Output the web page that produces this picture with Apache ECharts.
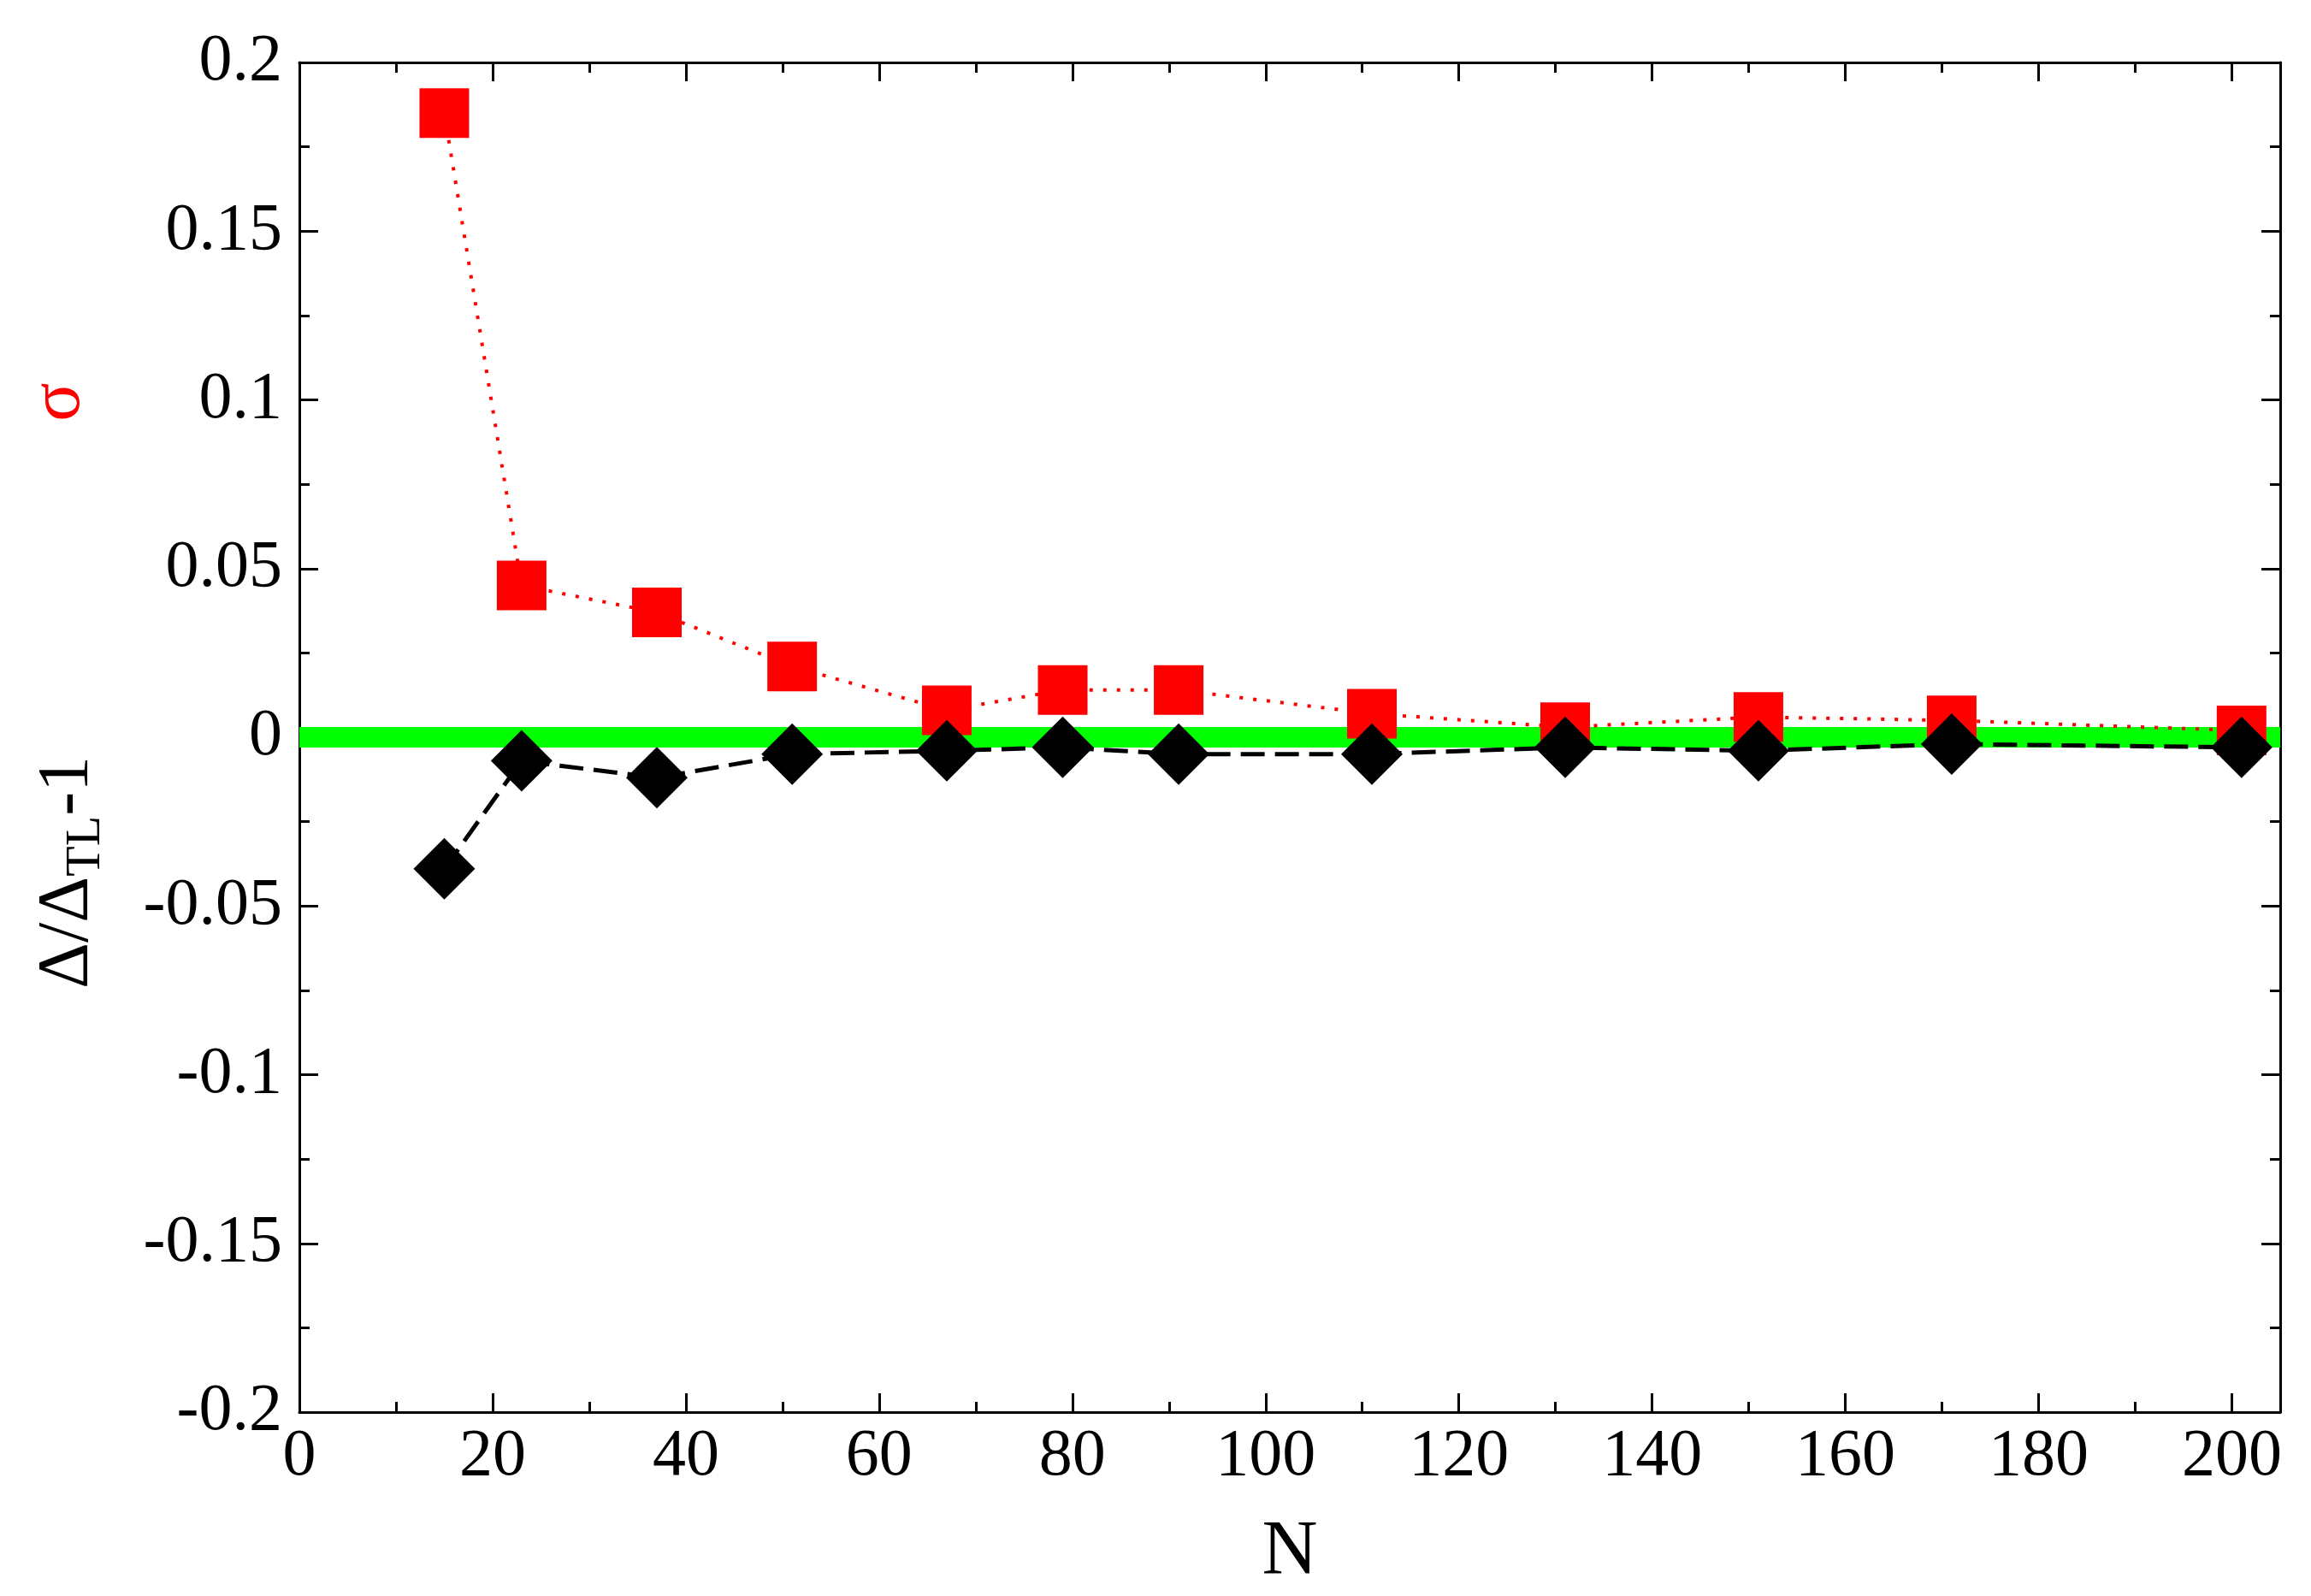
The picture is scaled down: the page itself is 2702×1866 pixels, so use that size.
<!DOCTYPE html>
<html><head><meta charset="utf-8">
<script src="https://cdn.jsdelivr.net/npm/echarts@6/dist/echarts.min.js"></script>
<style>html,body{margin:0;padding:0;background:#fff}#c{width:2702px;height:1866px}</style>
</head><body><div id="c"></div>
<script>
const nValues = [15, 23, 37, 51, 67, 79, 91, 111, 131, 151, 171, 201];
const sigma = [0.185, 0.045, 0.037, 0.021, 0.008, 0.014, 0.014, 0.007, 0.003, 0.006, 0.005, 0.002];
const ratio = [-0.039, -0.007, -0.012, -0.005, -0.004, -0.003, -0.005, -0.005, -0.003, -0.004, -0.002, -0.003];
const zeroLine = [[0, 0], [205, 0]];

const font = 'Liberation Serif';
const chart = echarts.init(document.getElementById('c'));
const xBase = {
  type: 'value', min: 0, max: 205, interval: 20,
  axisLine: {onZero: false, lineStyle: {color: '#000', width: 3}},
  axisTick: {inside: true, length: 22, lineStyle: {color: '#000', width: 3}},
  minorTick: {show: true, splitNumber: 2, length: 12, lineStyle: {color: '#000', width: 3}},
  splitLine: {show: false},
};
const yBase = {
  type: 'value', min: -0.2, max: 0.2, interval: 0.05,
  axisLine: {onZero: false, lineStyle: {color: '#000', width: 3}},
  axisTick: {inside: true, length: 22, lineStyle: {color: '#000', width: 3}},
  minorTick: {show: true, splitNumber: 2, length: 12, lineStyle: {color: '#000', width: 3}},
  splitLine: {show: false},
};
chart.setOption({
  animation: false,
  backgroundColor: '#fff',
  grid: {left: 350, top: 73, right: 36, bottom: 172},
  xAxis: [
    Object.assign({}, xBase, {position: 'bottom',
      axisLabel: {fontFamily: font, fontSize: 78, color: '#000', margin: 14,
        formatter: v => (v > 200 ? '' : v)},
      name: 'N', nameLocation: 'middle', nameGap: 120,
      nameTextStyle: {fontFamily: font, fontSize: 90, color: '#000'}}),
    Object.assign({}, xBase, {position: 'top', axisLabel: {show: false}})
  ],
  yAxis: [
    Object.assign({}, yBase, {position: 'left',
      axisLabel: {fontFamily: font, fontSize: 78, color: '#000', margin: 20,
        formatter: v => String(Math.round(v * 100) / 100)}}),
    Object.assign({}, yBase, {position: 'right', axisLabel: {show: false}})
  ],
  graphic: [
    {type: 'text', x: 70, y: 470, rotation: Math.PI / 2, z: 10,
     style: {text: 'σ', fontFamily: font, fontSize: 84, fill: '#ff0000', align: 'center', verticalAlign: 'middle'}},
    {type: 'text', x: 80, y: 1020, rotation: Math.PI / 2, z: 10,
     style: {text: '{b|Δ/Δ}{s|TL}{b|-1}', align: 'center', verticalAlign: 'middle',
       rich: {
         b: {fontFamily: font, fontSize: 84, fill: '#000', lineHeight: 100, verticalAlign: 'middle'},
         s: {fontFamily: font, fontSize: 58, fill: '#000', lineHeight: 100, verticalAlign: 'bottom', padding: [30, 0, 0, 0]}
       }}}
  ],
  series: [
    {type: 'line', data: zeroLine, symbol: 'none', silent: true,
     lineStyle: {color: '#00ff00', width: 24}, z: 1},
    {type: 'line', data: nValues.map((n, i) => [n, sigma[i]]), symbol: 'rect', symbolSize: 58,
     itemStyle: {color: '#ff0000'}, lineStyle: {color: '#ff0000', width: 4, type: [4, 12]}, z: 3},
    {type: 'line', data: nValues.map((n, i) => [n, ratio[i]]), symbol: 'diamond', symbolSize: 72,
     itemStyle: {color: '#000'}, lineStyle: {color: '#000', width: 5, type: [28, 12]}, z: 4}
  ]
});
</script></body></html>
